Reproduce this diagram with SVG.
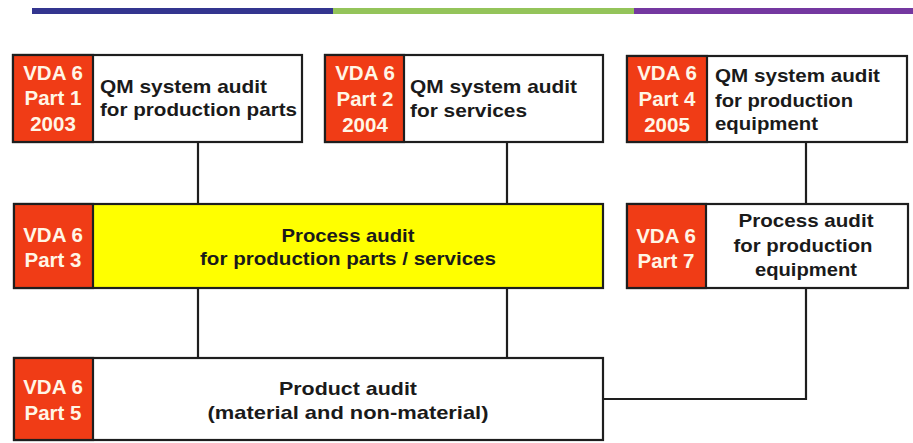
<svg xmlns="http://www.w3.org/2000/svg" width="913" height="443" viewBox="0 0 913 443">
<style>
.box{fill:#fff;stroke:#1e1e1e;stroke-width:2.2}
.yel{fill:#ffff00;stroke:#1e1e1e;stroke-width:2.2}
.red{fill:#f03c16;stroke:#1e1e1e;stroke-width:2.2}
.con{fill:none;stroke:#1e1e1e;stroke-width:2.2}
.rt{font-family:"Liberation Sans",Arial,sans-serif;font-weight:bold;font-size:20.5px;fill:#fff6e6;text-anchor:middle}
.bt{font-family:"Liberation Sans",Arial,sans-serif;font-weight:bold;font-size:19px;fill:#1a1a1a}
.c{text-anchor:middle}
</style>
<rect x="0" y="0" width="913" height="443" fill="#fff"/>
<g id="topbar">
<rect x="32" y="8" width="301" height="6" fill="#33358f"/>
<rect x="333" y="8" width="301" height="6" fill="#94c45a"/>
<rect x="634" y="8" width="279" height="6" fill="#7438a0"/>
</g>
<g id="connectors">
<path class="con" d="M198,142V204M507,142V204M806,142V204M198,288V358M507,288V358M806,288V399H603"/>
</g>
<g id="part1">
<rect class="box" x="13" y="55" width="289" height="87"/>
<rect class="red" x="13" y="55" width="80" height="87"/>
<text class="rt" x="53" y="80">VDA 6</text>
<text class="rt" x="53" y="105">Part 1</text>
<text class="rt" x="53" y="131">2003</text>
<text class="bt" x="100" y="93" textLength="167" lengthAdjust="spacingAndGlyphs">QM system audit</text>
<text class="bt" x="100" y="116" textLength="197" lengthAdjust="spacingAndGlyphs">for production parts</text>
</g>
<g id="part2">
<rect class="box" x="325" y="55" width="278" height="87"/>
<rect class="red" x="325" y="55" width="79" height="87"/>
<text class="rt" x="365" y="80">VDA 6</text>
<text class="rt" x="365" y="106">Part 2</text>
<text class="rt" x="365" y="132">2004</text>
<text class="bt" x="410" y="93" textLength="167" lengthAdjust="spacingAndGlyphs">QM system audit</text>
<text class="bt" x="410" y="117" textLength="117" lengthAdjust="spacingAndGlyphs">for services</text>
</g>
<g id="part4">
<rect class="box" x="627" y="56" width="280" height="86"/>
<rect class="red" x="627" y="56" width="80" height="86"/>
<text class="rt" x="667" y="80">VDA 6</text>
<text class="rt" x="667" y="106">Part 4</text>
<text class="rt" x="667" y="132">2005</text>
<text class="bt" x="715" y="82" textLength="165" lengthAdjust="spacingAndGlyphs">QM system audit</text>
<text class="bt" x="715" y="107" textLength="138" lengthAdjust="spacingAndGlyphs">for production</text>
<text class="bt" x="715" y="130" textLength="103" lengthAdjust="spacingAndGlyphs">equipment</text>
</g>
<g id="part3">
<rect class="yel" x="14" y="204" width="589" height="84"/>
<rect class="red" x="14" y="204" width="79" height="84"/>
<text class="rt" x="53" y="242">VDA 6</text>
<text class="rt" x="53" y="267">Part 3</text>
<text class="bt c" x="348" y="242" textLength="133" lengthAdjust="spacingAndGlyphs">Process audit</text>
<text class="bt c" x="348" y="265" textLength="296" lengthAdjust="spacingAndGlyphs">for production parts / services</text>
</g>
<g id="part7">
<rect class="box" x="627" y="204" width="281" height="84"/>
<rect class="red" x="627" y="204" width="79" height="84"/>
<text class="rt" x="666" y="243">VDA 6</text>
<text class="rt" x="666" y="268">Part 7</text>
<text class="bt c" x="806" y="227" textLength="135" lengthAdjust="spacingAndGlyphs">Process audit</text>
<text class="bt c" x="803" y="252" textLength="139" lengthAdjust="spacingAndGlyphs">for production</text>
<text class="bt c" x="806" y="276" textLength="102" lengthAdjust="spacingAndGlyphs">equipment</text>
</g>
<g id="part5">
<rect class="box" x="14" y="358" width="589" height="82"/>
<rect class="red" x="14" y="358" width="79" height="82"/>
<text class="rt" x="53" y="394">VDA 6</text>
<text class="rt" x="53" y="420">Part 5</text>
<text class="bt c" x="348" y="395" textLength="138" lengthAdjust="spacingAndGlyphs">Product audit</text>
<text class="bt c" x="348" y="419" textLength="281" lengthAdjust="spacingAndGlyphs">(material and non-material)</text>
</g>
</svg>
